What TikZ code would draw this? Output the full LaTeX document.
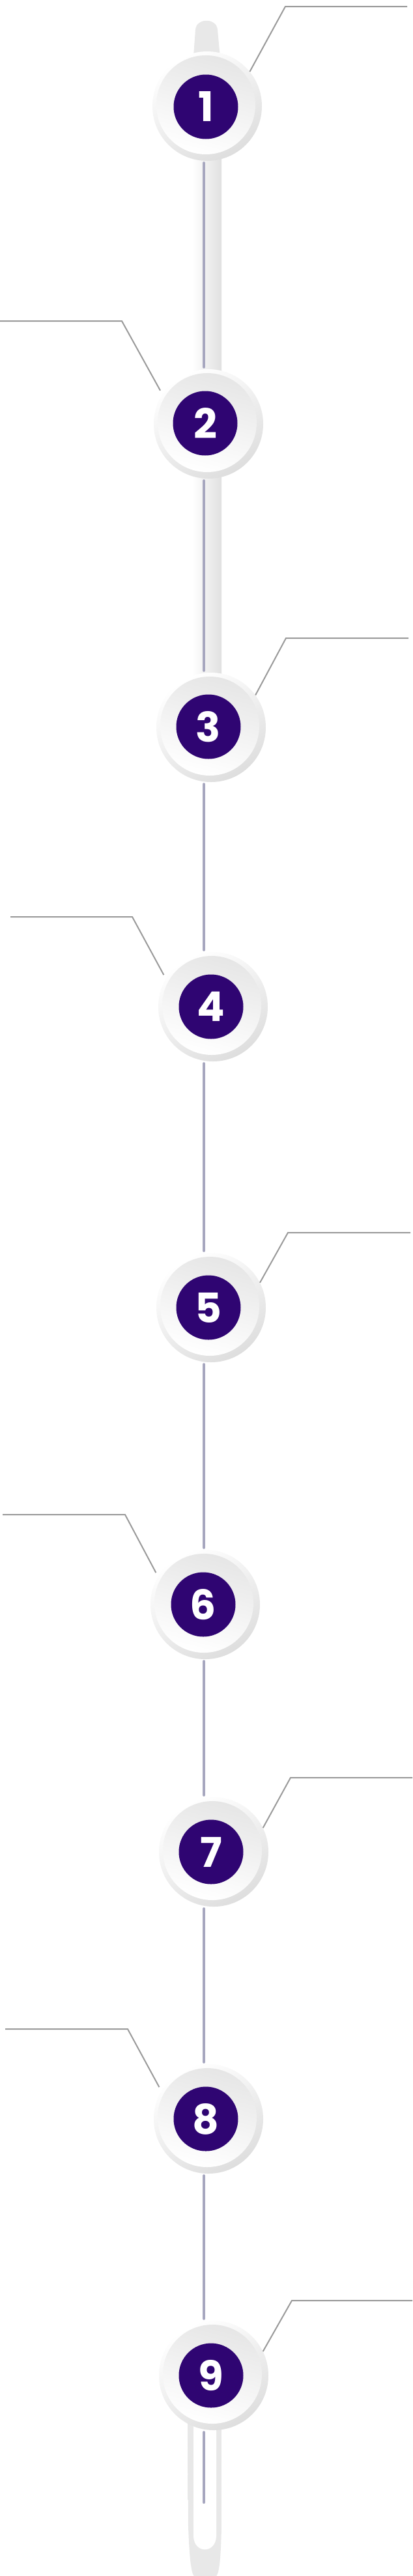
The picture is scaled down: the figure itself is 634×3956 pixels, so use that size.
\documentclass[tikz,border=0pt]{standalone}
\usepackage{fontspec}
\newfontfamily\numfont{Poppins}[BoldFont={Poppins Bold}]
\definecolor{purp}{HTML}{2F0572}
\definecolor{stemc}{HTML}{A7A7BF}
\definecolor{leadc}{HTML}{9A9A9A}
\definecolor{rimg}{HTML}{DEDEDE}
\definecolor{faceg}{HTML}{E6E6E6}
\definecolor{capg}{HTML}{E8E8E8}
\tikzset{
  rim/.style={circle, inner sep=0pt, minimum size=168pt, top color=white, bottom color=rimg, shading angle=30},
  face/.style={left color=faceg, right color=white, shading angle=-15},
  disk/.style={circle, inner sep=0pt, minimum size=99pt, fill=purp, text=white,
    font=\numfont\bfseries\fontsize{63}{63}\selectfont},
  stem/.style={stemc, line width=4pt, line cap=round, shorten <=3pt, shorten >=3pt},
  leader/.style={leadc, line width=2pt},
}
\newcommand\milestone[6]{%
  \node[rim] (c#1) at (#2,#3) {};
  \shade[face] (#2-2,#3-2) circle (76);
  \node[disk] (n#1) at (#4,#5) {#6};
}
\begin{document}
\begin{tikzpicture}[x=1pt,y=-1pt]
\useasboundingbox (0,0) rectangle (634,3956);
\fill[white] (0,0) rectangle (634,3956);
% top cap
\shade[left color=capg, middle color=white, right color=capg]
  (296,100) -- (300,46) .. controls (301,27) and (333,27) .. (334,46) -- (339,100) -- cycle;
% pipe between 1 and 3
\shade[left color=white, middle color=white!95!black, right color=white!88!black]
  (295,163) rectangle (340,1117);
% bottom cap
\shade[left color=capg, middle color=white!96!black, right color=capg]
  (288,3720) -- (289,3880) .. controls (291,3935) and (294,3956) .. (300,3958)
  -- (330,3958) .. controls (336,3956) and (339,3935) .. (340,3880) -- (340,3720) -- cycle;
\fill[white] (297,3720) -- (297,3895) .. controls (298,3922) and (331,3922) .. (332,3895) -- (332,3720) -- cycle;
% milestones
\milestone{1}{318}{163}{316}{164}{1}
\milestone{2}{320}{651}{315}{650}{2}
\milestone{3}{324}{1117}{320}{1116}{3}
\milestone{4}{327}{1546}{324}{1546}{4}
\milestone{5}{324}{2008}{320}{2008}{5}
\milestone{6}{315}{2464}{312}{2464}{6}
\milestone{7}{328}{2844}{324}{2844}{7}
\milestone{8}{320}{3254}{316}{3254}{8}
\milestone{9}{328}{3648}{324}{3648}{9}
% stem
\coordinate (lx) at (313,0);
\coordinate (bend) at (313,3843);
\draw[stem] (c1.south -| lx) -- (c2.north -| lx);
\draw[stem] (c2.south -| lx) -- (c3.north -| lx);
\draw[stem] (c3.south -| lx) -- (c4.north -| lx);
\draw[stem] (c4.south -| lx) -- (c5.north -| lx);
\draw[stem] (c5.south -| lx) -- (c6.north -| lx);
\draw[stem] (c6.south -| lx) -- (c7.north -| lx);
\draw[stem] (c7.south -| lx) -- (c8.north -| lx);
\draw[stem] (c8.south -| lx) -- (c9.north -| lx);
\draw[stem, shorten >=0pt] (c9.south -| lx) -- (bend);
% leaders
\coordinate (b1) at (438,10);   \coordinate (e1) at (625,10);
\coordinate (b2) at (187,493);  \coordinate (e2) at (0,493);
\coordinate (b3) at (439,980);  \coordinate (e3) at (627,980);
\coordinate (b4) at (203,1408); \coordinate (e4) at (16,1408);
\coordinate (b5) at (442,1893); \coordinate (e5) at (630,1893);
\coordinate (b6) at (192,2326); \coordinate (e6) at (4,2326);
\coordinate (b7) at (446,2730); \coordinate (e7) at (633,2730);
\coordinate (b8) at (196,3116); \coordinate (e8) at (8,3116);
\coordinate (b9) at (448,3533); \coordinate (e9) at (633,3533);
\draw[leader] (c1.39) -- (b1) -- (e1);
\draw[leader] ([shift={(-5,-3)}]c2.145) -- (b2) -- (e2);
\draw[leader] (c3.36) -- (b3) -- (e3);
\draw[leader] ([shift={(-5,-3)}]c4.147) -- (b4) -- (e4);
\draw[leader] (c5.27) -- (b5) -- (e5);
\draw[leader] ([shift={(-5,-3)}]c6.147) -- (b6) -- (e6);
\draw[leader] (c7.26) -- (b7) -- (e7);
\draw[leader] ([shift={(-5,-3)}]c8.147) -- (b8) -- (e8);
\draw[leader] (c9.26) -- (b9) -- (e9);
\end{tikzpicture}
\end{document}
